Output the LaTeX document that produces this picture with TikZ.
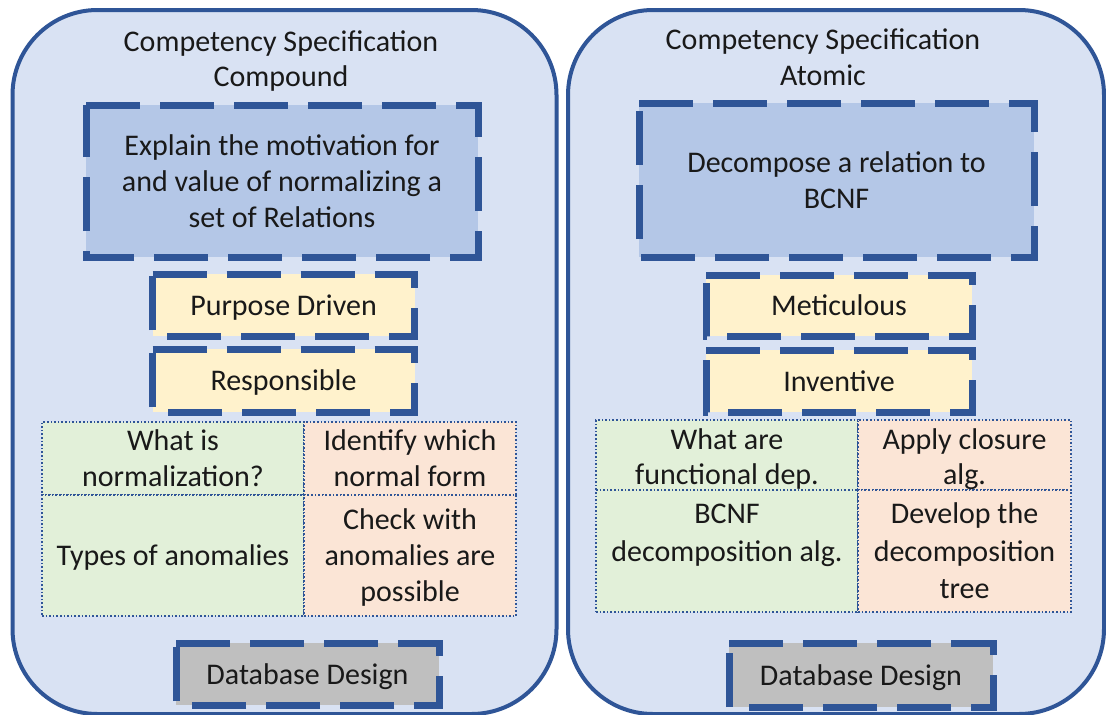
\documentclass[tikz,border=0pt]{standalone}
\usepackage{fontspec}
\setmainfont{Carlito}
\definecolor{dblue}{HTML}{2F5597}
\definecolor{cfill}{HTML}{D9E2F3}
\definecolor{mfill}{HTML}{B4C7E7}
\definecolor{yfill}{HTML}{FFF2CC}
\definecolor{gfill}{HTML}{E2F0D9}
\definecolor{pfill}{HTML}{FBE5D6}
\definecolor{dbfill}{HTML}{BFBFBF}
\tikzset{
  txt/.style={font=\fontsize{30}{36}\selectfont, align=center, inner sep=0pt, outer sep=0pt, text=black!90, text height=24pt, text depth=4pt},
  container/.style={draw=dblue, line width=4pt, fill=cfill, rounded corners=85pt, inner sep=0pt},
  dbox/.style={txt},
  dborder/.style={draw=dblue, line width=7pt, dash pattern=on 54pt off 20pt},
  cell/.style={txt, draw=dblue, line width=1.6pt, dash pattern=on 1.6pt off 2pt},
  wide/.style={font=\fontsize{30}{37.5}\selectfont},
  two/.style={text height=60pt},
  three/.style={text height=96pt},
}
\begin{document}
\begin{tikzpicture}[x=1pt,y=-1pt]
\useasboundingbox (0,0) rectangle (1106,715);
% containers
\node[container, minimum width=544pt, minimum height=704pt] (lc) at (284.5,362) {};
\node[container, minimum width=536pt, minimum height=704pt] (rc) at (836,362) {};
% left
\node[txt, font=\fontsize{30}{35}\selectfont, text height=59pt] (lt) at (281,58.5) {Competency Specification\\Compound};
\node[dbox, three, fill=mfill, minimum width=392pt, minimum height=152pt] (lmain) at (282,181) {Explain the motivation for\\and value of normalizing a\\set of Relations};
\node[dbox, fill=yfill, minimum width=262pt, minimum height=62pt] (lpd) at (283.5,305) {Purpose Driven};
\node[dbox, fill=yfill, minimum width=262pt, minimum height=63pt] (lresp) at (283.5,380.5) {Responsible};
\node[cell, two, fill=gfill, minimum width=262pt, minimum height=73pt] (l11) at (173,458.5) {What is\\normalization?};
\node[cell, two, fill=pfill, minimum width=212pt, minimum height=73pt] (l12) at (410,458.5) {Identify which\\normal form};
\node[cell, fill=gfill, minimum width=262pt, minimum height=121pt] (l21) at (173,555.5) {Types of anomalies};
\node[cell, three, fill=pfill, minimum width=212pt, minimum height=121pt] (l22) at (410,555.5) {Check with\\anomalies are\\possible};
\node[dbox, fill=dbfill, minimum width=263pt, minimum height=62pt] (ldb) at (307.5,674) {Database Design};
% right
\node[txt, two] (rt) at (823,57.5) {Competency Specification\\Atomic};
\node[dbox, two, fill=mfill, minimum width=395pt, minimum height=154pt] (rmain) at (836.5,180) {Decompose a relation to\\BCNF};
\node[dbox, fill=yfill, minimum width=266pt, minimum height=61pt] (rmet) at (839,305.5) {Meticulous};
\node[dbox, fill=yfill, minimum width=266pt, minimum height=62pt] (rinv) at (839,381) {Inventive};
\node[cell, fill=gfill, minimum width=262pt, minimum height=70pt, font=\fontsize{30}{35}\selectfont, text height=59pt, text depth=-3pt] (r11) at (727,455) {What are\\functional dep.};
\node[cell, fill=pfill, minimum width=213pt, minimum height=70pt, font=\fontsize{30}{35}\selectfont, text height=59pt, text depth=-3pt] (r12) at (964.5,455) {Apply closure\\alg.};
\node[cell, wide, text height=99pt, fill=gfill, minimum width=262pt, minimum height=122pt] (r21) at (727,551) {BCNF\\decomposition alg.\\\mbox{}};
\node[cell, wide, text height=99pt, fill=pfill, minimum width=213pt, minimum height=122pt] (r22) at (964.5,551) {Develop the\\decomposition\\tree};
\node[dbox, fill=dbfill, minimum width=264pt, minimum height=64pt] (rdb) at (861,675) {Database Design};
% dashed borders, drawn clockwise from the top left corner
\foreach \n in {lmain,lpd,lresp,ldb,rmain,rmet,rinv,rdb}
  \draw[dborder] (\n.north west) -- (\n.north east) -- (\n.south east) -- (\n.south west) -- cycle;
\end{tikzpicture}
\end{document}
